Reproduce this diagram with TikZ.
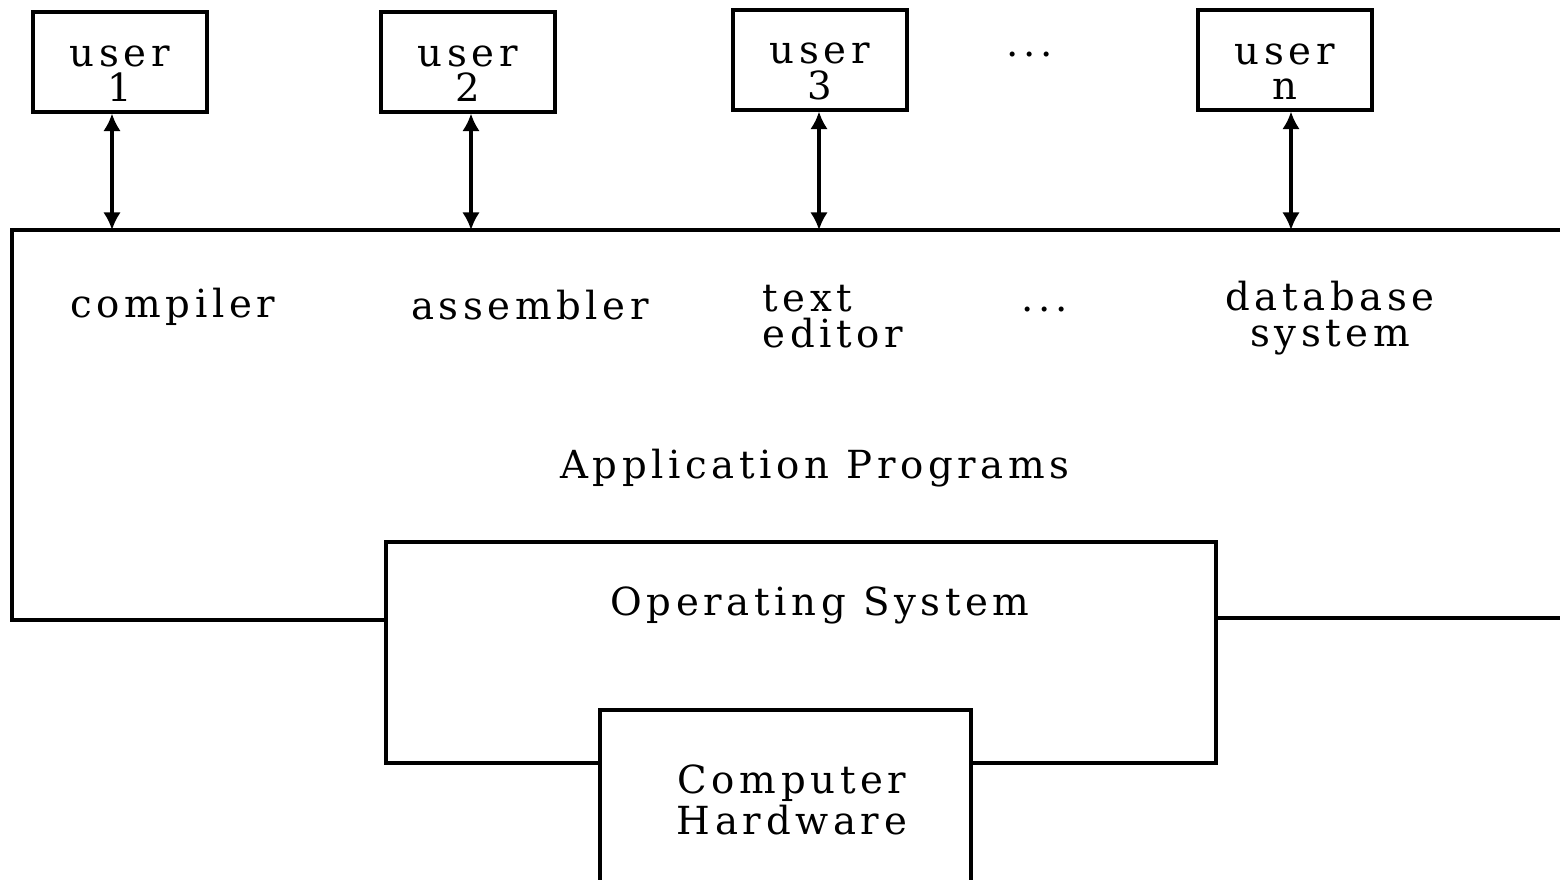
\documentclass[tikz,border=0pt]{standalone}
\usepackage{fontspec}
\setmainfont{DejaVu Serif}[LetterSpace=12]
\usetikzlibrary{arrows.meta}
\newcommand{\dnstrut}{\rule{0pt}{12.5pt}}
\begin{document}
\begin{tikzpicture}[x=0.01cm,y=-0.01cm,
  line width=0.9pt,
  lbl/.style={font=\fontsize{11}{10.2}\selectfont, inner sep=0pt, align=center},
  lbll/.style={lbl, align=left},
  userbox/.style={draw, minimum width=174*0.01cm, minimum height=100*0.01cm, inner sep=0pt, lbl},
  plainbox/.style={draw, inner sep=0pt},
  link/.style={{Latex[length=5pt,width=5pt]}-{Latex[length=5pt,width=5pt]}, line width=0.9pt}]
\useasboundingbox (0,0) rectangle (1560,880);
% user boxes
\node[userbox] (u1) at (120,62) {\dnstrut user\\1};
\node[userbox] (u2) at (468,62) {\dnstrut user\\2};
\node[userbox] (u3) at (820,60) {\dnstrut user\\3};
\node[lbl] (udots) at (1030,55) {...};
\node[userbox] (un) at (1285,60) {\dnstrut user\\n};
% application programs area (open on the right)
\draw (1560,230) -- (12,230) -- (12,620) -- (386,620);
\draw (1216,618) -- (1560,618);
\coordinate (a1) at (112,230);
\coordinate (a2) at (471,230);
\coordinate (a3) at (819,230);
\coordinate (an) at (1291,230);
\draw[link] (u1.south -| a1) -- (a1);
\draw[link] (u2.south -| a2) -- (a2);
\draw[link] (u3.south -| a3) -- (a3);
\draw[link] (un.south -| an) -- (an);
\node[lbl] (comp) at (173,307) {compiler};
\node[lbl] (asm) at (530,305) {assembler};
\node[lbll, anchor=west] (ted) at (761,317) {text\\editor};
\node[lbl] (adots) at (1045,310) {...};
\node[lbl] (db) at (1330,318) {database\\system};
\node[lbl] (app) at (815,468) {Application Programs};
% operating system
\node[plainbox, minimum width=830*0.01cm, minimum height=221*0.01cm] (os) at (801,652.5) {};
\node[lbl] (ostxt) at (820,605) {Operating System};
% hardware (open at bottom), drawn over the OS box
\fill[white] (600,710) rectangle (971,885);
\draw (600,885) -- (600,710) -- (971,710) -- (971,885);
\node[lbl] (hw) at (792,800) {Computer\\Hardware};
\end{tikzpicture}
\end{document}
